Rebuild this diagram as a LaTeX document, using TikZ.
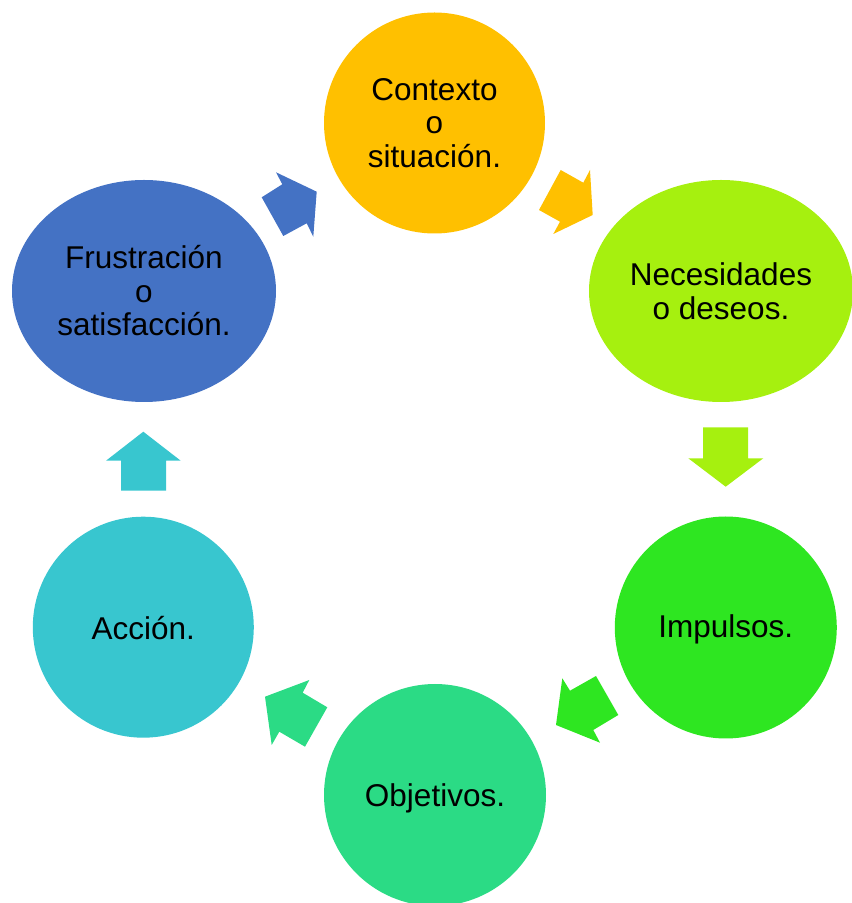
\documentclass[tikz,border=0pt]{standalone}
\usepackage{fontspec}
\setmainfont{Liberation Sans}
\usetikzlibrary{shapes.geometric}
\definecolor{cOrange}{HTML}{FFC000}
\definecolor{cLime}{HTML}{A6F00F}
\definecolor{cGreen}{HTML}{2EE621}
\definecolor{cMint}{HTML}{2BDB85}
\definecolor{cTeal}{HTML}{38C6CF}
\definecolor{cBlue}{HTML}{4472C4}
\tikzset{
  blob/.style={ellipse, inner sep=0pt, align=center, text=black,
    font=\fontsize{31.5}{33.5}\selectfont},
  lbl/.style={inner sep=0pt, align=center, text=black,
    font=\fontsize{31.5}{33.5}\selectfont}
}
\begin{document}
\begin{tikzpicture}[x=1pt,y=1pt]
\useasboundingbox (0,0) rectangle (852,903);
% circles
\node[blob, fill=cOrange, minimum width=221pt, minimum height=221pt] (ctx) at (434.5,780) {Contexto\\o\\situación.};
\node[blob, fill=cLime, minimum width=264pt, minimum height=222pt] (nec) at (721,612) {Necesidades\\o deseos.};
\node[blob, fill=cGreen, minimum width=222pt, minimum height=222pt] (imp) at (725.8,275.5) {};
\node[lbl] (impt) at ([yshift=-2pt]imp.center) {Impulsos.};
\node[blob, fill=cMint, minimum width=222pt, minimum height=222pt] (obj) at (435,108) {};
\node[lbl] (objt) at ([yshift=-3pt]obj.center) {Objetivos.};
\node[blob, fill=cTeal, minimum width=221pt, minimum height=221pt] (acc) at (143.3,275.8) {};
\node[lbl] (acct) at ([yshift=-1pt]acc.center) {Acción.};
\node[blob, fill=cBlue, minimum width=264pt, minimum height=222pt] (fru) at (144,612) {Frustración\\o\\satisfacción.};
% block arrows
\fill[cBlue] (276,730.7) -- (282.3,718.7) -- (261.7,705.7) -- (283.3,667) -- (306.7,679.7) -- (313.3,666.3) -- (316.7,711.3) -- cycle;
\fill[cOrange] (560.7,733) -- (583.3,720.3) -- (590,733) -- (592.7,688) -- (553.3,669) -- (560,681.3) -- (539,693) -- cycle;
\fill[cLime] (703,475.7) -- (748,475.7) -- (748,444.7) -- (763.3,444.7) -- (725.7,416.3) -- (688.3,444.7) -- (703,444.7) -- cycle;
\fill[cGreen] (556,178) -- (562.3,224.7) -- (570,212.3) -- (596,227) -- (618.3,188) -- (593.3,173) -- (600,160.3) -- cycle;
\fill[cMint] (265,206.3) -- (309.3,223) -- (302.7,210.3) -- (327.3,195.7) -- (305,156.3) -- (279.3,171.3) -- (271.7,158) -- cycle;
\fill[cTeal] (143.3,471.3) -- (180.7,442.3) -- (166,442.3) -- (166,412.3) -- (121,412.3) -- (121,442.3) -- (106,442.3) -- cycle;
\end{tikzpicture}
\end{document}
